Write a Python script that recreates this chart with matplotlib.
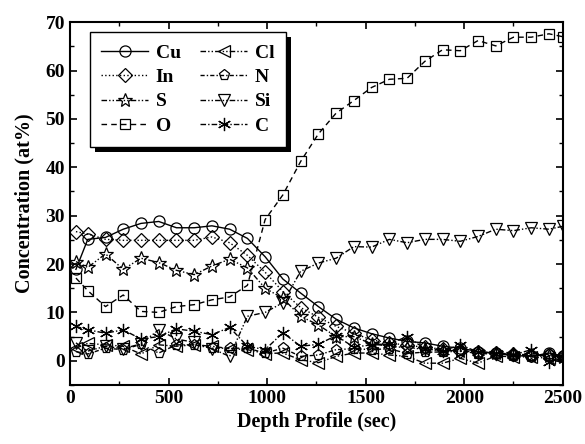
import numpy as np
import matplotlib
matplotlib.use('Agg')
import matplotlib.pyplot as plt
from matplotlib.patches import Rectangle
from matplotlib.ticker import MultipleLocator

plt.rcParams.update({
    'font.family': 'serif',
    'font.serif': ['Liberation Serif', 'DejaVu Serif'],
    'font.weight': 'bold',
    'font.size': 14,
    'axes.linewidth': 1.5,
    'xtick.direction': 'in',
    'ytick.direction': 'in',
    'xtick.top': True,
    'ytick.right': True,
})

# ── Data ──────────────────────────────────────────────────────────────────────
t = [30, 90, 180, 270, 360, 450, 540, 630, 720, 810, 900, 990, 1080, 1170,
     1260, 1350, 1440, 1530, 1620, 1710, 1800, 1890, 1980, 2070, 2160, 2250,
     2340, 2430, 2500]

cu = [18.9, 25.1, 25.5, 27.2, 28.4, 28.8, 27.5, 27.5, 27.9, 27.2, 25.3, 21.5,
      16.9, 14.0, 11.2, 8.6, 6.8, 5.6, 4.7, 4.0, 3.7, 3.0, 2.6, 1.9, 1.6, 1.1,
      0.9, 1.6, 1.0]
in_ = [26.7, 26.2, 25.1, 24.9, 24.9, 24.9, 24.9, 24.9, 25.6, 24.4, 21.8, 18.3,
       14.3, 11.0, 9.0, 7.1, 5.7, 4.3, 3.7, 3.2, 2.8, 2.4, 2.1, 1.8, 1.6, 1.3,
       1.2, 1.1, 1.0]
s = [20.5, 19.3, 22.1, 18.9, 21.2, 20.3, 18.7, 17.8, 19.6, 21.0, 19.2, 15.0,
     12.9, 9.2, 7.4, 5.0, 5.0, 3.5, 3.0, 2.7, 2.4, 2.2, 2.0, 1.8, 1.6, 1.4,
     1.2, 1.0, 0.8]
o = [17.1, 14.5, 11.2, 13.6, 10.2, 10.0, 11.2, 11.6, 12.6, 13.2, 15.6, 29.2,
     34.3, 41.2, 46.9, 51.2, 53.8, 56.5, 58.2, 58.4, 61.9, 64.3, 64.1, 66.2,
     65.1, 66.9, 66.9, 67.6, 67.0]
cl = [2.6, 3.6, 3.3, 3.0, 1.4, 3.3, 3.0, 3.3, 3.0, 2.5, 2.3, 1.5, 1.6, 0.2,
      -0.4, 0.9, 1.6, 1.6, 1.2, 0.9, -0.5, -0.5, 0.5, -0.5, 1.0, 0.8, 0.8,
      0.5, 0.3]
n = [1.9, 1.4, 2.6, 2.3, 3.4, 1.6, 3.3, 3.3, 2.6, 2.6, 2.6, 1.6, 2.6, 0.9,
     1.2, 2.3, 2.5, 2.3, 2.5, 1.5, 1.8, 1.8, 2.0, 1.5, 1.4, 1.2, 1.0, 1.3, 0.8]
si = [3.7, 2.0, 3.0, 2.5, 3.5, 6.4, 4.5, 3.8, 2.5, 0.9, 9.2, 10.0, 12.0,
      18.5, 20.2, 21.2, 23.6, 23.5, 25.1, 24.4, 25.1, 25.1, 24.7, 25.7, 27.2,
      26.9, 27.5, 27.2, 27.8]
c = [7.1, 6.4, 5.7, 6.4, 4.5, 5.0, 6.6, 6.1, 5.4, 6.9, 3.0, 2.3, 5.8, 3.0,
     3.4, 5.2, 2.8, 3.3, 3.5, 5.0, 2.5, 2.0, 3.3, 1.8, 1.5, 1.2, 2.3, -0.2, 0.5]

# ── Plot ──────────────────────────────────────────────────────────────────────
fig = plt.figure(figsize=(5.85, 4.44), dpi=100)
ax = fig.add_axes([0.1197, 0.133, 0.8423, 0.817])

dashdotdot = (0, (4, 1.5, 1, 1.5, 1, 1.5))
series = [
    # values, label, marker, linestyle, markersize
    (cu,  'Cu', 'o',       '-',               8.0),
    (in_, 'In', 'D',       ':',               7.0),
    (s,   'S',  '*',       dashdotdot,        10.0),
    (o,   'O',  's',       (0, (4, 3)),       7.5),
    (cl,  'Cl', '<',       dashdotdot,        8.5),
    (n,   'N',  'p',       (0, (3, 1.5, 1, 1.5)), 8.0),
    (si,  'Si', 'v',       dashdotdot,        8.5),
    (c,   'C',  (6, 2, 0), (0, (4, 1.5, 1, 1.5)), 9.5),
]
handles = {}
for vals, lab, mk, ls, ms in series:
    h, = ax.plot(t, vals, linestyle=ls, color='black', linewidth=1.0,
                 marker=mk, markersize=ms, markerfacecolor='none',
                 markeredgecolor='black', markeredgewidth=0.9, label=lab)
    handles[lab] = h

ax.set_xlim(0, 2500)
ax.set_ylim(-5, 70)
ax.xaxis.set_major_locator(MultipleLocator(500))
ax.xaxis.set_minor_locator(MultipleLocator(250))
ax.yaxis.set_major_locator(MultipleLocator(10))
ax.yaxis.set_minor_locator(MultipleLocator(5))
ax.tick_params(which='major', length=5, width=1.2, labelsize=14)
ax.tick_params(which='minor', length=3, width=1.0)
ax.set_xlabel('Depth Profile (sec)', fontsize=14.5, fontweight='bold', labelpad=4)
ax.set_ylabel('Concentration (at%)', fontsize=14.5, fontweight='bold', labelpad=8)

order = ['Cu', 'In', 'S', 'O', 'Cl', 'N', 'Si', 'C']
leg = ax.legend([handles[k] for k in order], order, ncol=2, loc='upper left',
                bbox_to_anchor=(0.04, 0.972), borderaxespad=0, frameon=True,
                fancybox=False, edgecolor='black', framealpha=1,
                handlelength=2.4, columnspacing=1.0, labelspacing=0.35,
                borderpad=0.6, handletextpad=0.4,
                prop={'weight': 'bold', 'size': 14})
leg.get_frame().set_linewidth(1.0)
leg.set_zorder(10)

# black drop shadow behind the legend box
fig.canvas.draw()
bb = leg.get_window_extent().transformed(ax.transAxes.inverted())
dx, dy = 5 / 493, 5 / 363
ax.add_patch(Rectangle((bb.x0 + dx, bb.y0 - dy), bb.width, bb.height,
                       transform=ax.transAxes, facecolor='black',
                       edgecolor='none', zorder=9, clip_on=False))

fig.savefig('out.png', dpi=100)
